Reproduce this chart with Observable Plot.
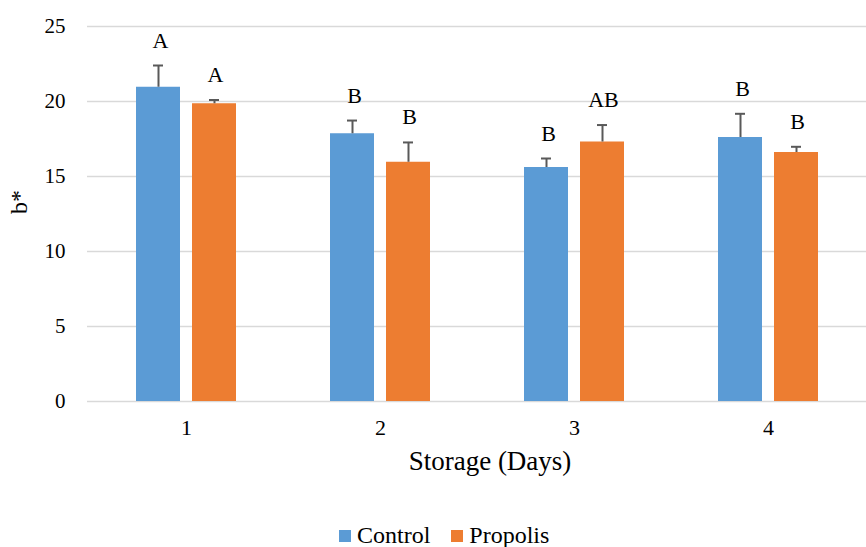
<!DOCTYPE html>
<html>
<head>
<meta charset="utf-8">
<script src="https://cdn.jsdelivr.net/npm/d3@7"></script>
<script src="https://cdn.jsdelivr.net/npm/@observablehq/plot@0.6"></script>
<style>
  html, body { margin: 0; padding: 0; background: #fff; }
  #chart { position: relative; width: 866px; height: 547px; font-family: 'Liberation Serif', serif; }
  #chart svg { display: block; }
  .legend { position: absolute; left: 339px; top: 522px; display: flex; align-items: center; font-size: 24px; color: #000; }
  .legend .sw { width: 12px; height: 12px; display: inline-block; margin-right: 6px; }
  .legend .item { display: flex; align-items: center; margin-right: 21px; }
</style>
</head>
<body>
<div id="chart"></div>
<script>
const days = ["1", "2", "3", "4"];
const seriesNames = ["Control", "Propolis"];
const seriesColors = ["#5b9bd5", "#ed7d31"];
const controlValues = [20.95, 17.85, 15.6, 17.6];
const controlErrors = [1.45, 0.88, 0.6, 1.58];
const controlLetters = ["A", "B", "B", "B"];
const propolisValues = [19.85, 15.95, 17.3, 16.6];
const propolisErrors = [0.25, 1.32, 1.13, 0.38];
const propolisLetters = ["A", "B", "AB", "B"];
const yTicks = [0, 5, 10, 15, 20, 25];
const yLabel = "b*";
const xLabel = "Storage (Days)";

const FONT = "'Liberation Serif', serif";
const ctrl = days.map((d, i) => ({day: d, value: controlValues[i], err: controlErrors[i], letter: controlLetters[i]}));
const prop = days.map((d, i) => ({day: d, value: propolisValues[i], err: propolisErrors[i], letter: propolisLetters[i]}));
const errTop = d => d.value + d.err;
const errColor = "#595959";

const chart = Plot.plot({
  width: 866,
  height: 490,
  marginLeft: 87,
  marginRight: 0,
  marginTop: 26,
  marginBottom: 89,
  style: {fontFamily: FONT, fontSize: "21px", color: "#000", background: "#fff"},
  x: {type: "band", domain: days, paddingInner: 0.487, paddingOuter: 0.2435, axis: null},
  y: {domain: [0, 25], axis: null},
  marks: [
    Plot.ruleY(yTicks, {stroke: "#d9d9d9", strokeWidth: 1.3}),
    Plot.barY(ctrl, {x: "day", y: "value", fill: seriesColors[0], insetRight: 56}),
    Plot.barY(prop, {x: "day", y: "value", fill: seriesColors[1], insetLeft: 56}),
    Plot.ruleX(ctrl, {x: "day", y1: "value", y2: errTop, dx: -28, stroke: errColor, strokeWidth: 2}),
    Plot.ruleX(prop, {x: "day", y1: "value", y2: errTop, dx: 28, stroke: errColor, strokeWidth: 2}),
    Plot.tickY(ctrl, {x: "day", y: errTop, insetLeft: 17, insetRight: 73, stroke: errColor, strokeWidth: 2}),
    Plot.tickY(prop, {x: "day", y: errTop, insetLeft: 73, insetRight: 17, stroke: errColor, strokeWidth: 2}),
    Plot.text(ctrl, {x: "day", y: errTop, text: "letter", dx: -26, dy: -25, fontSize: 22, fontFamily: FONT, fill: "#000"}),
    Plot.text(prop, {x: "day", y: errTop, text: "letter", dx: 29, dy: -25, fontSize: 22, fontFamily: FONT, fill: "#000"}),
    Plot.axisY(yTicks, {tickSize: 0, tickPadding: 22, fontSize: 21, fontFamily: FONT, label: null}),
    Plot.axisX({tickSize: 0, tickPadding: 18, fontSize: 22, fontFamily: FONT, label: null}),
    Plot.text([yLabel], {text: d => d, frameAnchor: "left", dx: -68, rotate: -90, fontSize: 24, fontFamily: FONT, fill: "#000"}),
    Plot.text([xLabel], {text: d => d, frameAnchor: "bottom", dx: 13, dy: 68, fontSize: 27, fontFamily: FONT, fill: "#000"})
  ]
});

d3.select(chart).selectAll("text").style("font-family", FONT);

const root = document.getElementById("chart");
root.appendChild(chart);

const legend = document.createElement("div");
legend.className = "legend";
legend.style.fontFamily = FONT;
seriesNames.forEach((name, i) => {
  const item = document.createElement("span");
  item.className = "item";
  item.style.fontFamily = FONT;
  const sw = document.createElement("span");
  sw.className = "sw";
  sw.style.background = seriesColors[i];
  item.appendChild(sw);
  const label = document.createElement("span");
  label.style.fontFamily = FONT;
  label.textContent = name;
  item.appendChild(label);
  legend.appendChild(item);
});
root.appendChild(legend);
</script>
</body>
</html>
